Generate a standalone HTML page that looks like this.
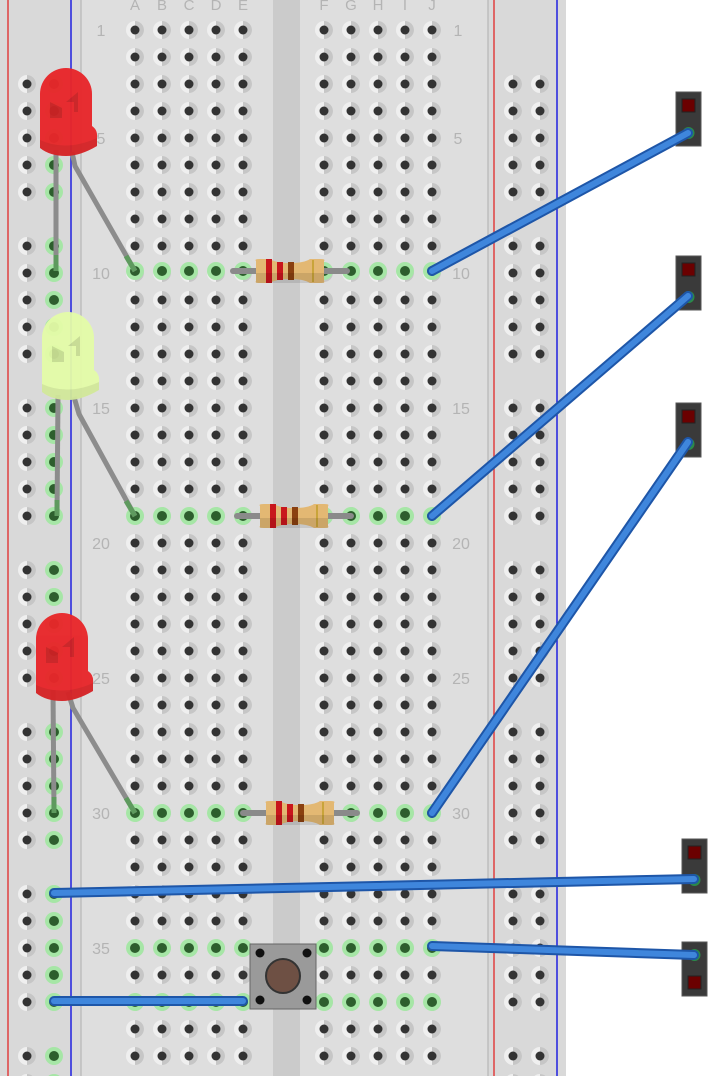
<!DOCTYPE html>
<html><head><meta charset="utf-8"><style>
html,body{margin:0;padding:0;background:#fff;}
svg{display:block;}
text{font-family:"Liberation Sans",sans-serif;fill:#b4b4b4;}
</style></head><body>
<svg width="708" height="1076" viewBox="0 0 708 1076" xmlns="http://www.w3.org/2000/svg">
<defs>
<g id="h"><circle r="9" fill="#efefef"/><path d="M0,-9 A9,9 0 0 1 0,9 Z" fill="#c6c6c6"/><circle r="4.5" fill="#333"/></g>
<g id="g"><circle r="9" fill="#a6e6a6"/><circle r="5" fill="#2d5e2d"/></g>
<pattern id="mp" x="121.5" y="16.5" width="27" height="27" patternUnits="userSpaceOnUse"><use href="#h" x="13.5" y="13.5"/></pattern>
<pattern id="rp" x="13.5" y="70.5" width="27" height="162" patternUnits="userSpaceOnUse">
<use href="#h" x="13.5" y="13.5"/><use href="#h" x="13.5" y="40.5"/><use href="#h" x="13.5" y="67.5"/><use href="#h" x="13.5" y="94.5"/><use href="#h" x="13.5" y="121.5"/></pattern>
<pattern id="rg" x="13.5" y="70.5" width="27" height="162" patternUnits="userSpaceOnUse">
<use href="#g" x="13.5" y="13.5"/><use href="#g" x="13.5" y="40.5"/><use href="#g" x="13.5" y="67.5"/><use href="#g" x="13.5" y="94.5"/><use href="#g" x="13.5" y="121.5"/></pattern>
<g id="res">
<rect x="-60" y="-3" width="120" height="6" rx="3" fill="#8a8a8a"/>
<path d="M-34,-10 Q-36,-12 -30,-12 L-20,-12 Q-14,-8 0,-8 Q14,-8 20,-12 L30,-12 Q36,-12 34,-10 L34,10 Q36,12 30,12 L20,12 Q14,8 0,8 Q-14,8 -20,12 L-30,12 Q-36,12 -34,10 Z" fill="#e3b873"/>
<rect x="-24" y="-12" width="6" height="24" fill="#c8161c"/><rect x="-13" y="-9" width="6" height="18" fill="#c8161c"/><rect x="-2" y="-9" width="6" height="18" fill="#8a4010"/><rect x="22" y="-11" width="2" height="22" fill="#c9a43a"/>
<rect x="-34" y="2" width="68" height="10" fill="#000" opacity=".1"/>
</g>
<g id="led">
<path d="M0,26 A26,26 0 0 1 52,26 L52,58 Q58,62 57,70 L57,78 Q40,88 26,88 Q10,88 0,80 Z"/>
<path d="M10,34 L26,34 L38,24 L38,44 L34,44 L34,34 M10,34 L10,50 L22,50 L22,40 Z" fill="#000" opacity=".12"/>
<path d="M0,72 Q26,84 57,70 L57,78 Q40,88 26,88 Q10,88 0,80 Z" fill="#000" opacity=".08"/>
</g>
<g id="hdr"><rect x="0" y="0" width="25" height="54" fill="#3a3a3a" stroke="#555"/><rect x="6" y="7" width="13" height="13" fill="#6b0000" stroke="#222"/><circle cx="12.5" cy="41" r="6" fill="#2b8a4a"/></g>
</defs>
<rect x="0" y="0" width="566" height="1076" fill="#d9d9d9"/>
<rect x="81" y="0" width="407" height="1076" fill="#dedede"/>
<rect x="273" y="0" width="27" height="1076" fill="#cbcbcb"/>
<line x1="81" y1="0" x2="81" y2="1076" stroke="#bdbdbd" stroke-width="1.5"/>
<line x1="488" y1="0" x2="488" y2="1076" stroke="#bdbdbd" stroke-width="1.5"/>
<line x1="8" y1="0" x2="8" y2="1076" stroke="#e04040" stroke-width="1.5"/>
<line x1="71" y1="0" x2="71" y2="1076" stroke="#2020e0" stroke-width="1.5"/>
<line x1="494" y1="0" x2="494" y2="1076" stroke="#e04040" stroke-width="1.5"/>
<line x1="557" y1="0" x2="557" y2="1076" stroke="#2020e0" stroke-width="1.5"/>
<rect x="121.5" y="16.5" width="135" height="1053" fill="url(#mp)"/>
<rect x="310.5" y="16.5" width="135" height="1053" fill="url(#mp)"/>
<rect x="13.5" y="70.5" width="27" height="1006" fill="url(#rp)"/>
<rect x="40.5" y="70.5" width="27" height="1006" fill="url(#rg)"/>
<rect x="499.5" y="70.5" width="54" height="1006" fill="url(#rp)"/>
<g>
<use href="#g" x="135" y="271"/><use href="#g" x="162" y="271"/><use href="#g" x="189" y="271"/><use href="#g" x="216" y="271"/><use href="#g" x="243" y="271"/>
<use href="#g" x="324" y="271"/><use href="#g" x="351" y="271"/><use href="#g" x="378" y="271"/><use href="#g" x="405" y="271"/><use href="#g" x="432" y="271"/>
<use href="#g" x="135" y="516"/><use href="#g" x="162" y="516"/><use href="#g" x="189" y="516"/><use href="#g" x="216" y="516"/><use href="#g" x="243" y="516"/>
<use href="#g" x="324" y="516"/><use href="#g" x="351" y="516"/><use href="#g" x="378" y="516"/><use href="#g" x="405" y="516"/><use href="#g" x="432" y="516"/>
<use href="#g" x="135" y="813"/><use href="#g" x="162" y="813"/><use href="#g" x="189" y="813"/><use href="#g" x="216" y="813"/><use href="#g" x="243" y="813"/>
<use href="#g" x="324" y="813"/><use href="#g" x="351" y="813"/><use href="#g" x="378" y="813"/><use href="#g" x="405" y="813"/><use href="#g" x="432" y="813"/>
<use href="#g" x="135" y="948"/><use href="#g" x="162" y="948"/><use href="#g" x="189" y="948"/><use href="#g" x="216" y="948"/><use href="#g" x="243" y="948"/>
<use href="#g" x="324" y="948"/><use href="#g" x="351" y="948"/><use href="#g" x="378" y="948"/><use href="#g" x="405" y="948"/><use href="#g" x="432" y="948"/>
<use href="#g" x="135" y="1002"/><use href="#g" x="162" y="1002"/><use href="#g" x="189" y="1002"/><use href="#g" x="216" y="1002"/><use href="#g" x="243" y="1002"/>
<use href="#g" x="324" y="1002"/><use href="#g" x="351" y="1002"/><use href="#g" x="378" y="1002"/><use href="#g" x="405" y="1002"/><use href="#g" x="432" y="1002"/>
</g>
<g font-size="15" text-anchor="middle">
<text x="135" y="10">A</text><text x="162" y="10">B</text><text x="189" y="10">C</text><text x="216" y="10">D</text><text x="243" y="10">E</text>
<text x="324" y="10">F</text><text x="351" y="10">G</text><text x="378" y="10">H</text><text x="405" y="10">I</text><text x="432" y="10">J</text>
</g>
<g font-size="16" text-anchor="middle">
<text x="101" y="36">1</text><text x="101" y="144">5</text><text x="101" y="279">10</text><text x="101" y="414">15</text><text x="101" y="549">20</text><text x="101" y="684">25</text><text x="101" y="819">30</text><text x="101" y="954">35</text>
<text x="458" y="36">1</text><text x="458" y="144">5</text><text x="461" y="279">10</text><text x="461" y="414">15</text><text x="461" y="549">20</text><text x="461" y="684">25</text><text x="461" y="819">30</text>
</g>
<use href="#res" x="290" y="271"/>
<use href="#res" x="294" y="516"/>
<use href="#res" x="300" y="813"/>
<g fill="none" stroke="#8c8c8c" stroke-width="5" stroke-linejoin="round">
<polyline points="56,150 56,271"/><polyline points="72,152 75,166 135,271"/>
<polyline points="58,395 57,516"/><polyline points="74,397 79,414 135,516"/>
<polyline points="53,690 54,813"/><polyline points="68,692 73,708 135,813"/>
</g>
<g fill="none" stroke="#5e9a5e" stroke-width="5">
<line x1="56" y1="255" x2="56" y2="271"/><line x1="126" y1="256" x2="135" y2="271"/>
<line x1="57" y1="500" x2="57" y2="516"/><line x1="126" y1="501" x2="135" y2="516"/>
<line x1="54" y1="797" x2="54" y2="813"/><line x1="126" y1="798" x2="135" y2="813"/>
</g>
<use href="#led" x="40" y="68" fill="#e8262a" opacity=".96"/>
<use href="#led" x="42" y="312" fill="#e4fca8" opacity=".95"/>
<use href="#led" x="36" y="613" fill="#e8262a" opacity=".96"/>
<rect x="250" y="944" width="66" height="65" fill="#9a9a9a" stroke="#666"/>
<circle cx="283" cy="976" r="17" fill="#6e5044" stroke="#333" stroke-width="2"/>
<circle cx="260" cy="953" r="4.5" fill="#111"/><circle cx="307" cy="953" r="4.5" fill="#111"/><circle cx="260" cy="1000" r="4.5" fill="#111"/><circle cx="307" cy="1000" r="4.5" fill="#111"/>
<use href="#hdr" x="676" y="92"/>
<use href="#hdr" x="676" y="256"/>
<use href="#hdr" x="676" y="403"/>
<use href="#hdr" x="682" y="839"/>
<g transform="translate(682,996) scale(1,-1)"><use href="#hdr"/></g>
<g fill="none" stroke-linecap="round">
<g stroke="#1e56a8" stroke-width="10">
<line x1="432" y1="271" x2="688" y2="133"/><line x1="432" y1="516" x2="688" y2="296"/><line x1="432" y1="813" x2="688" y2="442"/>
<line x1="54" y1="893" x2="694" y2="879"/><line x1="432" y1="946" x2="694" y2="955"/><line x1="54" y1="1001" x2="243" y2="1001"/>
</g>
<g stroke="#3f86dc" stroke-width="6">
<line x1="432" y1="271" x2="688" y2="133"/><line x1="432" y1="516" x2="688" y2="296"/><line x1="432" y1="813" x2="688" y2="442"/>
<line x1="54" y1="893" x2="694" y2="879"/><line x1="432" y1="946" x2="694" y2="955"/><line x1="54" y1="1001" x2="243" y2="1001"/>
</g>
</g>
</svg>
</body></html>
